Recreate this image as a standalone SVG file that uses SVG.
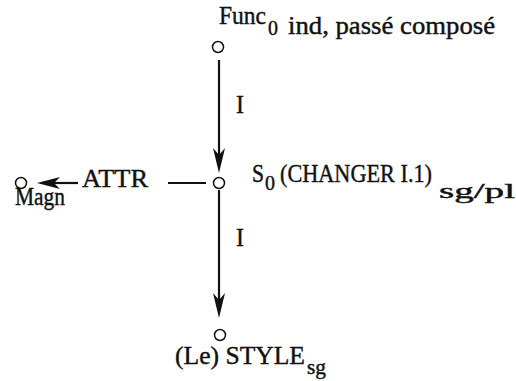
<svg xmlns="http://www.w3.org/2000/svg" width="516" height="381" viewBox="0 0 516 381">
<style>
text{font-family:"Liberation Serif","Times New Roman",serif;fill:#111;stroke:#111;stroke-width:0.4;font-size:25px}
.sub{font-size:20px}
.node{fill:#fff;stroke:#111;stroke-width:1.5}
.edge{stroke:#111;stroke-width:2.2;fill:none}
.head{fill:#111;stroke:none}
</style>
<rect width="516" height="381" fill="#fff"/>
<g id="connectors">
<line class="edge" x1="219" y1="60" x2="219" y2="160"/>
<path class="head" d="M219,173 L213,148 L219,155 L225,148 Z"/>
<line class="edge" x1="219" y1="190" x2="219" y2="305"/>
<path class="head" d="M219,318 L213,293 L219,300 L225,293 Z"/>
<line class="edge" x1="168" y1="183" x2="206" y2="183"/>
<line class="edge" x1="50" y1="183" x2="78" y2="183"/>
<path class="head" d="M37,183 L60,177 L54,183 L60,189 Z"/>
<text x="236" y="113" textLength="8" lengthAdjust="spacingAndGlyphs">I</text>
<text x="236" y="246" textLength="8" lengthAdjust="spacingAndGlyphs">I</text>
<text x="82" y="187" textLength="66" lengthAdjust="spacingAndGlyphs">ATTR</text>
</g>
<g id="func">
<circle class="node" cx="218" cy="47" r="5.5"/>
<text x="219" y="24" textLength="47" lengthAdjust="spacingAndGlyphs">Func</text>
<text class="sub" x="268" y="35" textLength="10" lengthAdjust="spacingAndGlyphs">0</text>
<text x="288" y="34" textLength="207" lengthAdjust="spacingAndGlyphs">ind, passé composé</text>
</g>
<g id="s0">
<circle class="node" cx="219" cy="183" r="5.5"/>
<text x="252" y="182" textLength="12" lengthAdjust="spacingAndGlyphs">S</text>
<text class="sub" x="265" y="190" textLength="10" lengthAdjust="spacingAndGlyphs">0</text>
<text x="280" y="182" textLength="152" lengthAdjust="spacingAndGlyphs">(CHANGER I.1)</text>
<text x="439" y="198" style="font-size:21px" textLength="76" lengthAdjust="spacingAndGlyphs">sg/pl</text>
</g>
<g id="magn">
<circle class="node" cx="21" cy="183" r="5.5"/>
<text x="15" y="205" textLength="50" lengthAdjust="spacingAndGlyphs">Magn</text>
</g>
<g id="style">
<circle class="node" cx="220" cy="335" r="5.5"/>
<text x="175" y="364" textLength="130" lengthAdjust="spacingAndGlyphs">(Le) STYLE</text>
<text class="sub" x="307" y="374" textLength="19" lengthAdjust="spacingAndGlyphs">sg</text>
</g>
</svg>
